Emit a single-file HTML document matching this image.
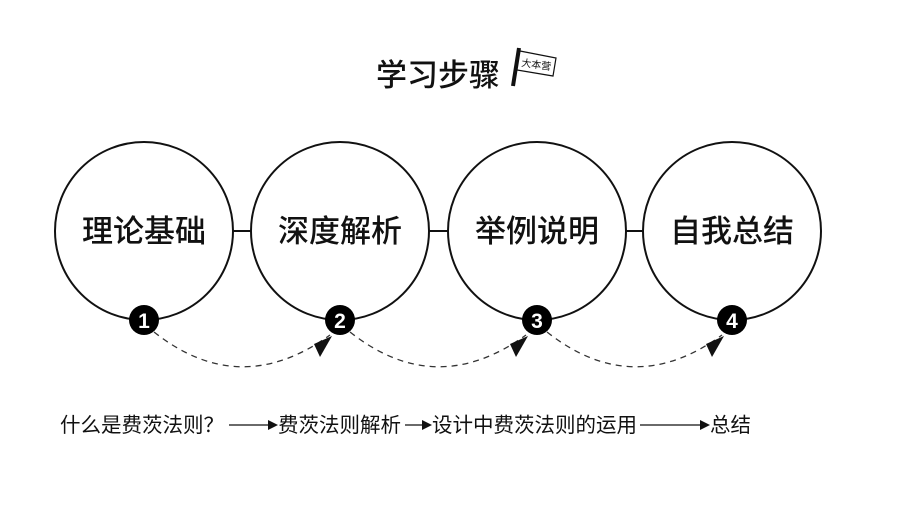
<!DOCTYPE html>
<html><head><meta charset="utf-8"><style>
body{margin:0;background:#fff;width:900px;height:500px;overflow:hidden;font-family:"Liberation Sans","Noto Sans CJK SC",sans-serif}
</style></head><body>
<svg width="900" height="500" viewBox="0 0 900 500" xmlns="http://www.w3.org/2000/svg" font-family="Liberation Sans, Noto Sans CJK SC, sans-serif">
<text x="376" y="86" font-size="31" font-weight="500" fill="#111">学习步骤</text>
<g transform="translate(511,46)">
<line x1="8" y1="2" x2="2" y2="40" stroke="#111" stroke-width="4"/>
<polygon points="9,5 45,12 42,30 6,24" fill="#fff" stroke="#111" stroke-width="1.2"/>
<text x="10" y="20" font-size="10" fill="#111" transform="rotate(8 10 20)">大本营</text>
</g>
<g fill="none" stroke="#111" stroke-width="2">
<circle cx="144" cy="231" r="89"/>
<circle cx="340" cy="231" r="89"/>
<circle cx="537" cy="231" r="89"/>
<circle cx="732" cy="231" r="89"/>
<line x1="233" y1="231" x2="251" y2="231"/>
<line x1="429" y1="231" x2="448" y2="231"/>
<line x1="626" y1="231" x2="643" y2="231"/>
</g>
<g font-size="31" font-weight="500" fill="#111" text-anchor="middle">
<text x="144" y="242">理论基础</text>
<text x="340" y="242">深度解析</text>
<text x="537" y="242">举例说明</text>
<text x="732" y="242">自我总结</text>
</g>
<g fill="none" stroke="#333" stroke-width="1.3" stroke-dasharray="6,5">
<path d="M154,332 Q240,400 330,335"/>
<path d="M350,332 Q436,400 526,335"/>
<path d="M547,332 Q633,400 722,335"/>
</g>
<g fill="#111">
<polygon points="332,336 314,344 320,357"/>
<polygon points="528,336 510,344 516,357"/>
<polygon points="724,336 706,344 712,357"/>
</g>
<g>
<circle cx="144" cy="320" r="15" fill="#000"/><text x="144" y="328" font-size="21" font-weight="bold" fill="#fff" text-anchor="middle">1</text>
<circle cx="340" cy="320" r="15" fill="#000"/><text x="340" y="328" font-size="21" font-weight="bold" fill="#fff" text-anchor="middle">2</text>
<circle cx="537" cy="320" r="15" fill="#000"/><text x="537" y="328" font-size="21" font-weight="bold" fill="#fff" text-anchor="middle">3</text>
<circle cx="732" cy="320" r="15" fill="#000"/><text x="732" y="328" font-size="21" font-weight="bold" fill="#fff" text-anchor="middle">4</text>
</g>
<g font-size="20.5" fill="#111">
<text x="60" y="432">什么是费茨法则？</text>
<text x="278" y="432">费茨法则解析</text>
<text x="432" y="432">设计中费茨法则的运用</text>
<text x="710" y="432">总结</text>
</g>
<g stroke="#111" stroke-width="1.3">
<line x1="229" y1="425" x2="270" y2="425"/>
<line x1="405" y1="425" x2="424" y2="425"/>
<line x1="640" y1="425" x2="702" y2="425"/>
</g>
<g fill="#111">
<polygon points="278,425 268,420 268,430"/>
<polygon points="432,425 422,420 422,430"/>
<polygon points="710,425 700,420 700,430"/>
</g>
</svg>
</body></html>
